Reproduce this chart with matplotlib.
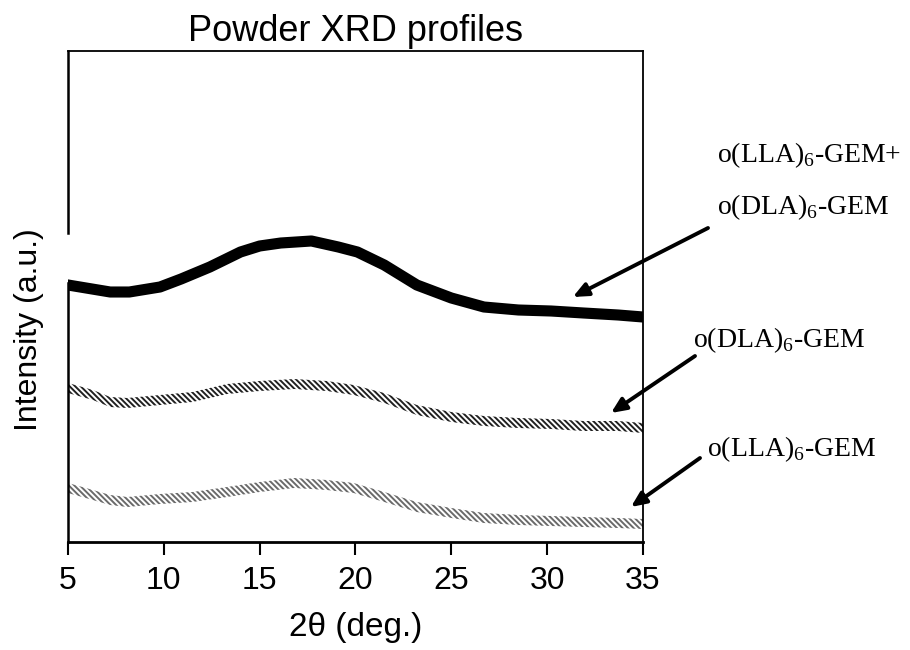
import matplotlib
matplotlib.use('Agg')
import matplotlib.pyplot as plt

plt.rcParams['mathtext.fontset'] = 'custom'
plt.rcParams['mathtext.rm'] = 'Liberation Serif'
plt.rcParams['hatch.linewidth'] = 1.4

# 2theta (deg.) and intensity (a.u.)
tt_mix = [5.0, 7.2, 8.2, 9.8, 10.9, 12.4, 14.0, 15.0, 16.1, 17.7, 19.1,
          20.1, 21.5, 23.2, 25.0, 26.7, 28.5, 30.2, 31.9, 33.7, 35.0]
i_mix = [257, 250, 250, 255, 263, 275, 290, 296, 299, 301, 295,
         290, 277, 257, 244, 235, 232, 231, 229, 227, 225]

tt_single = [5.0, 6.3, 7.2, 8.1, 9.8, 11.5, 13.3, 15.0, 16.8, 18.5,
             19.9, 21.5, 23.2, 25.0, 26.7, 28.5, 30.2, 31.9, 33.7, 35.0]
i_dla = [154, 147, 140, 139, 142, 145, 153, 156, 158, 156,
         152, 144, 132, 125, 121, 119, 118, 116, 116, 114]
i_lla = [54, 47, 42, 40, 43, 45, 50, 55, 59, 57,
         54, 45, 35, 29, 24, 22, 21, 20, 19, 18]

x_ticks = [5, 10, 15, 20, 25, 30, 35]

labels = [r'o(LLA)$_\mathrm{6}$-GEM+',
          r'o(DLA)$_\mathrm{6}$-GEM',
          r'o(DLA)$_\mathrm{6}$-GEM',
          r'o(LLA)$_\mathrm{6}$-GEM']

fig = plt.figure(figsize=(9.1, 6.5), dpi=100, facecolor='white')
ax = fig.add_axes([68 / 910, 108 / 650, 575 / 910, 491 / 650])

ax.plot(tt_mix, i_mix, color='black', lw=8, solid_joinstyle='round')

band = 5
ax.fill_between(tt_single, [v - band for v in i_dla], [v + band for v in i_dla],
                facecolor='none', edgecolor='#202020', hatch='\\' * 6, lw=0)
ax.fill_between(tt_single, [v - band for v in i_lla], [v + band for v in i_lla],
                facecolor='none', edgecolor='#6a6a6a', hatch='\\' * 6, lw=0)

ax.set_xlim(5, 35)
ax.set_ylim(0, 491)
ax.set_xticks(x_ticks)
ax.set_yticks([])
ax.tick_params(axis='x', direction='out', length=9, width=1.5, pad=8,
               labelsize=23)
for t in ax.get_xticklabels():
    t.set_fontfamily('Liberation Sans')

for s in ['top', 'right']:
    ax.spines[s].set_linewidth(1.3)
ax.spines['bottom'].set_linewidth(2)
# left spine is broken near the top curve
ax.spines['left'].set_visible(False)
ax.plot([0, 0], [1, 0.629], transform=ax.transAxes, color='black', lw=1.8,
        clip_on=False)
ax.plot([0, 0], [0.527, 0], transform=ax.transAxes, color='black', lw=1.8,
        clip_on=False)

ax.set_title('Powder XRD profiles', fontsize=26, family='Liberation Sans', pad=7)
ax.set_xlabel('2θ (deg.)', fontsize=24, family='Liberation Sans', labelpad=12)
ax.set_ylabel('Intensity (a.u.)', fontsize=23, family='Liberation Sans')
ax.yaxis.set_label_coords(-0.042, 0.432)

arrow = dict(arrowstyle='-|>,head_length=0.9,head_width=0.4', lw=2.8,
             color='black', shrinkA=0, shrinkB=0)
heads = [(31.34, 245), (33.33, 129), (34.37, 35)]
tails = [(708, 422), (695, 294), (700, 192)]
for (hx, hy), (tx, ty) in zip(heads, tails):
    ax.annotate('', xy=(hx, hy), xycoords='data', xytext=(tx, ty),
                textcoords='figure pixels', arrowprops=arrow,
                annotation_clip=False)

text_pos = [(717, 155), (717, 207), (693, 340), (707, 449)]
for lab, (px, py) in zip(labels, text_pos):
    fig.text(px / 910, 1 - py / 650, lab, fontsize=20, family='Liberation Serif',
             ha='left', va='center')

fig.savefig('out.png', dpi=100, facecolor='white')
